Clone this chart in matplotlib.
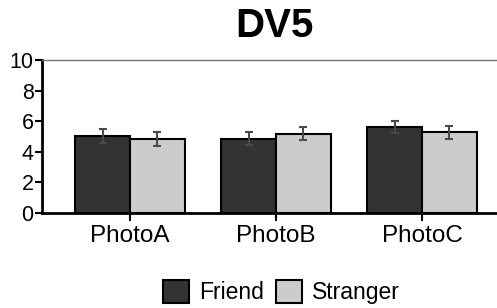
import matplotlib
matplotlib.use('Agg')
import matplotlib.pyplot as plt
import numpy as np
from matplotlib.patches import Patch

plt.rcParams['font.family'] = ['Liberation Sans', 'DejaVu Sans']

categories = ['PhotoA', 'PhotoB', 'PhotoC']
friend = [5.02, 4.85, 5.61]
friend_err = [0.44, 0.44, 0.41]
stranger = [4.85, 5.17, 5.27]
stranger_err = [0.46, 0.42, 0.43]
yticks = [0, 2, 4, 6, 8, 10]

fig = plt.figure(figsize=(4.97, 3.08), dpi=100)
ax = fig.add_axes([0.0845, 0.309, 0.9155, 0.496])

x = np.arange(len(categories))
w = 0.375
ekw = dict(ecolor='#4a4a4a', elinewidth=1.5, capsize=3, capthick=1.5)
ax.bar(x - w, friend, w, align='edge', color='#333333', edgecolor='black',
       linewidth=1.5, yerr=friend_err, error_kw=ekw, zorder=2)
ax.bar(x, stranger, w, align='edge', color='#cccccc', edgecolor='black',
       linewidth=1.5, yerr=stranger_err, error_kw=ekw, zorder=2)

ax.set_xlim(-0.603, 2.514)
ax.set_ylim(0, 10)
ax.set_yticks(yticks)
ax.set_xticks(x)
ax.set_xticklabels(categories, fontsize=17.5)
ax.tick_params(axis='y', labelsize=15.5, length=5, width=1.5, pad=1)
ax.tick_params(axis='x', length=6, width=1.5, pad=3)

ax.spines['left'].set_linewidth(2)
ax.spines['bottom'].set_linewidth(2)
ax.spines['top'].set_color('#777777')
ax.spines['top'].set_linewidth(1)
ax.spines['right'].set_visible(False)

fig.text(0.553, 0.915, 'DV5', ha='center', va='center', fontsize=29,
         fontweight='bold')

handles = [Patch(facecolor='#333333', edgecolor='black', linewidth=1.5),
           Patch(facecolor='#cccccc', edgecolor='black', linewidth=1.5)]
fig.legend(handles, ['Friend', 'Stranger'], loc='center',
           bbox_to_anchor=(0.566, 0.052), ncol=2, frameon=False, fontsize=16.5,
           handlelength=1.15, handleheight=1.15, handletextpad=0.45,
           columnspacing=0.5, borderpad=0)

fig.savefig('out.png', dpi=100)
